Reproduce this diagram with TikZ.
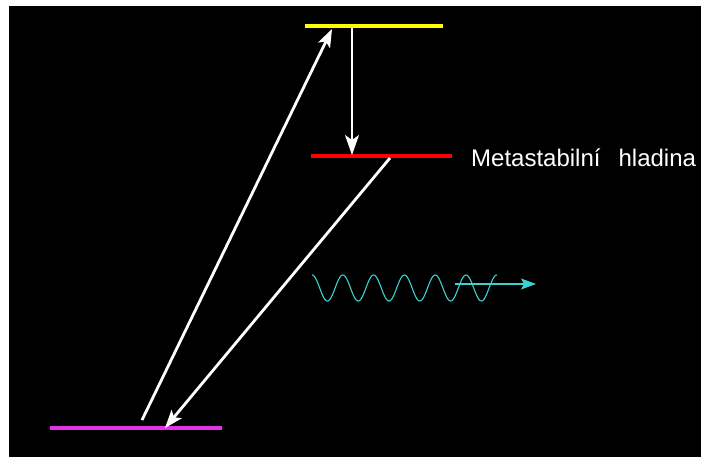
\documentclass[tikz,border=0pt]{standalone}
\usepackage{fontspec}
\setmainfont{Liberation Sans}
\usepackage{xcolor}
\usetikzlibrary{arrows.meta}

\definecolor{hornicol}{RGB}{255,255,0}
\definecolor{metacol}{RGB}{255,0,0}
\definecolor{zaklcol}{RGB}{230,50,230}
\definecolor{fotoncol}{RGB}{60,210,210}

\begin{document}
\begin{tikzpicture}[
  x=1pt, y=-1pt,
  level/.style={line width=4pt},
  pump/.style={draw=white, line width=2.8pt, -{Stealth[length=18pt, width=13pt, inset=4pt]}},
  decay/.style={draw=white, line width=1.8pt, -{Stealth[length=20pt, width=14pt, inset=5pt]}},
  photon/.style={draw=fotoncol, line width=1.1pt},
  label/.style={text=white, font=\fontsize{24}{28}\selectfont, anchor=west, inner sep=0pt}
]
\useasboundingbox (0,0) rectangle (702,459);
\fill[black] (9,6) rectangle (701,457);

% hladiny
\draw[level, hornicol] (305,26) -- (443,26);
\draw[level, metacol] (311,156) -- (452,156);
\draw[level, zaklcol, line width=3.2pt] (50,428) -- (222,428);

\node[label] (meta) at (471,158) {Metastabilní\hspace{18pt}hladina};

% konce sipek
\coordinate (z1) at (142,420);
\coordinate (h1) at (332,29);
\coordinate (h2) at (352,28);
\coordinate (m1) at (352,155);
\coordinate (m2) at (390,158);
\coordinate (z2) at (165,428);
\coordinate (f1) at (455,284);
\coordinate (f2) at (536,284);

\draw[pump] (z1) -- (h1);
\draw[decay] (h2) -- (m1);
\draw[pump] (m2) -- (z2);

% foton
\draw[photon] plot[domain=0:185, samples=240] ({312+\x}, {288-13*cos(\x*11.688)});
\draw[photon, -{Stealth[length=15pt, width=11pt, inset=3pt]}] (f1) -- (f2);
\end{tikzpicture}
\end{document}
